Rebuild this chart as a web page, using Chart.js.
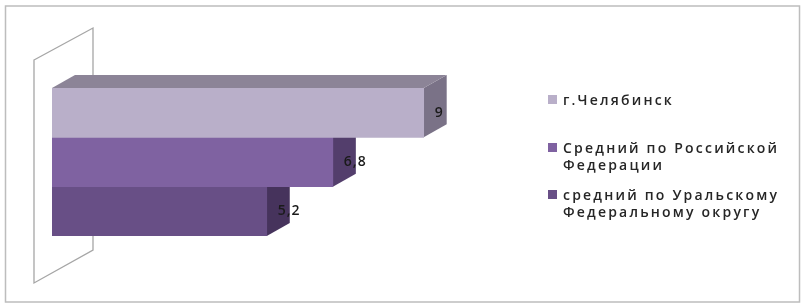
<!DOCTYPE html>
<html>
<head>
<meta charset="utf-8">
<script src="https://cdn.jsdelivr.net/npm/chart.js@4"></script>
<style>
    html, body { margin: 0; padding: 0; background: #fff; }
    #wrap { position: relative; width: 805px; height: 305px; }
    #legend { position: absolute; left: 0; top: 0; }
    .item { position: absolute; left: 548px; display: flex; align-items: flex-start; white-space: nowrap;
            font: 600 14px "Open Sans", sans-serif; letter-spacing: 2.2px; line-height: 17px; color: #262626; }
    .box { width: 9px; height: 9px; margin-top: 4px; margin-right: 6px; flex: none; }
</style>
</head>
<body>
<div id="wrap">
    <canvas id="chart" width="805" height="305"></canvas>
    <div id="legend"></div>
</div>
<script>
// Chart data
const categories = [''];
const seriesNames = [
    ['г.Челябинск'],
    ['Средний по Российской', 'Федерации'],
    ['средний по Уральскому', 'Федеральному округу']
];
const seriesValues = [9, 6.8, 5.2];

// Colours: front, top and side faces
const frontColors = ['#b9afc9', '#7f62a1', '#684f86'];
const topColors = ['#8c8497', '#5c4678', '#4a3862'];
const sideColors = ['#7a7287', '#533e6c', '#46335c'];

// 3D depth offset
const DX = 23, DY = 13;

const threeD = {
    id: 'threeD',
    beforeDraw(chart) {
        const ctx = chart.ctx;
        ctx.save();
        ctx.strokeStyle = '#bdbdbd';
        ctx.lineWidth = 1.5;
        ctx.strokeRect(5.5, 6, 794, 296);
        ctx.restore();
    },
    beforeDatasetsDraw(chart) {
        const ctx = chart.ctx;
        const area = chart.chartArea;
        ctx.save();

        // back wall
        ctx.beginPath();
        ctx.moveTo(area.left - 18, area.top - 28);
        ctx.lineTo(area.left + 41, area.top - 60);
        ctx.lineTo(area.left + 41, area.bottom + 14);
        ctx.lineTo(area.left - 18, area.bottom + 47);
        ctx.closePath();
        ctx.fillStyle = '#fff';
        ctx.fill();
        ctx.strokeStyle = '#a6a6a6';
        ctx.lineWidth = 1.3;
        ctx.stroke();

        // side and top faces
        let topMost = null;
        chart.data.datasets.forEach((ds, i) => {
            const bar = chart.getDatasetMeta(i).data[0];
            const p = bar.getProps(['x', 'y', 'base', 'height'], true);
            const top = p.y - p.height / 2, bottom = p.y + p.height / 2;
            ctx.beginPath();
            ctx.moveTo(p.x, top);
            ctx.lineTo(p.x + DX, top - DY);
            ctx.lineTo(p.x + DX, bottom - DY);
            ctx.lineTo(p.x, bottom);
            ctx.closePath();
            ctx.fillStyle = sideColors[i];
            ctx.fill();
            if (!topMost || top < topMost.top) topMost = { i, p, top };
        });
        if (topMost) {
            const p = topMost.p, top = topMost.top;
            ctx.beginPath();
            ctx.moveTo(p.base, top);
            ctx.lineTo(p.base + DX, top - DY);
            ctx.lineTo(p.x + DX, top - DY);
            ctx.lineTo(p.x, top);
            ctx.closePath();
            ctx.fillStyle = topColors[topMost.i];
            ctx.fill();
        }
        ctx.restore();
    },
    afterDatasetsDraw(chart) {
        const ctx = chart.ctx;
        ctx.save();
        ctx.font = '600 14px "Open Sans", sans-serif';
        ctx.letterSpacing = '1px';
        ctx.fillStyle = '#1a1a1a';
        ctx.textBaseline = 'middle';
        ctx.textAlign = 'left';
        chart.data.datasets.forEach((ds, i) => {
            const bar = chart.getDatasetMeta(i).data[0];
            const label = String(ds.data[0]).replace('.', ',');
            ctx.fillText(label, bar.x + 11, bar.y);
        });
        ctx.restore();
    }
};

const chart = new Chart(document.getElementById('chart'), {
    type: 'bar',
    data: {
        labels: categories,
        datasets: seriesValues.map((v, i) => ({
            label: seriesNames[i].join(' '),
            data: [v],
            backgroundColor: frontColors[i],
            borderWidth: 0,
            barPercentage: 1,
            categoryPercentage: 1
        }))
    },
    options: {
        indexAxis: 'y',
        responsive: false,
        animation: false,
        layout: { padding: { left: 52, right: 340, top: 88, bottom: 69 } },
        scales: {
            x: { display: false, min: 0, max: 10 },
            y: { display: false }
        },
        plugins: {
            legend: { display: false },
            tooltip: { enabled: false }
        }
    },
    plugins: [threeD]
});

// HTML legend
const legendTops = [91, 139, 186];
const legend = document.getElementById('legend');
seriesNames.forEach((lines, i) => {
    const item = document.createElement('div');
    item.className = 'item';
    item.style.top = legendTops[i] + 'px';
    item.innerHTML = '<span class="box" style="background:' + frontColors[i] + '"></span><span>' +
        lines.join('<br>') + '</span>';
    legend.appendChild(item);
});
</script>
</body>
</html>
